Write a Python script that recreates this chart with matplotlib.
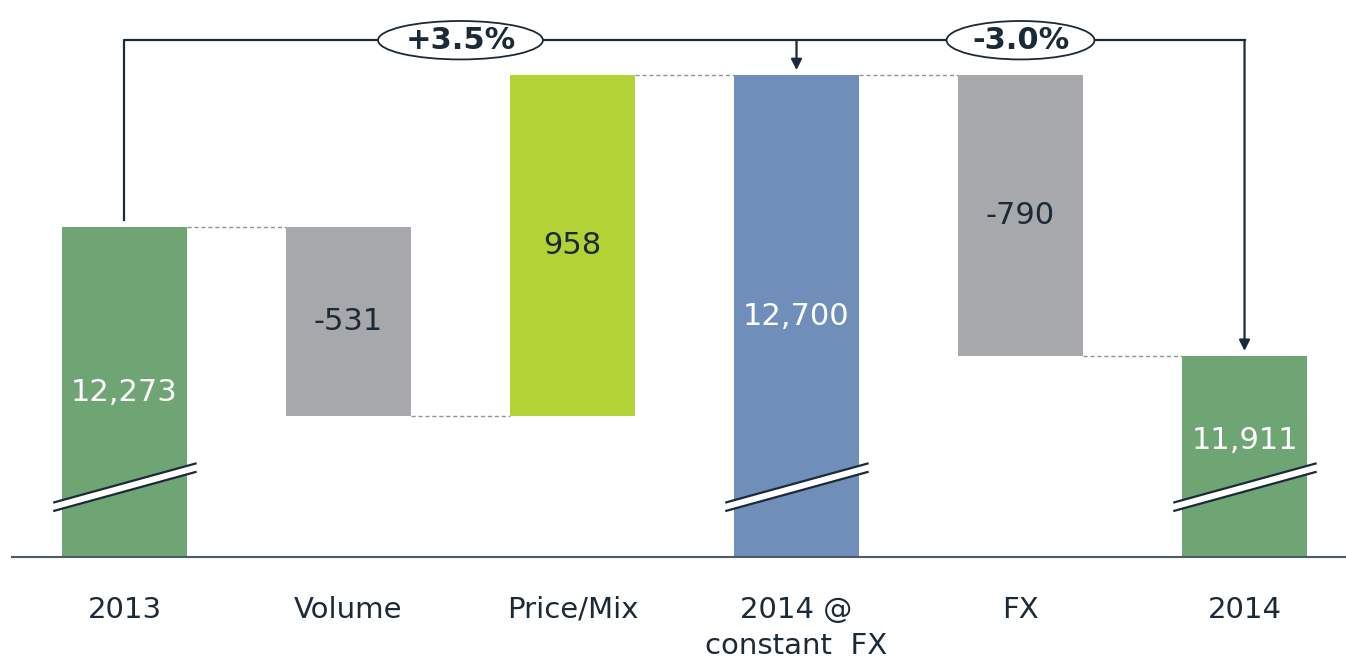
import matplotlib.pyplot as plt
from matplotlib.patches import Ellipse, Polygon
from matplotlib.transforms import blended_transform_factory

categories = ['2013', 'Volume', 'Price/Mix', '2014 @\nconstant  FX', 'FX', '2014']
values = [12273, -531, 958, 12700, -790, 11911]
is_total = [True, False, False, True, False, True]
bar_colors = ['#6fa475', '#a7a8ab', '#b2d235', '#6f8fba', '#a7a8ab', '#6fa475']
label_colors = ['white', '#1b2a38', '#1b2a38', 'white', '#1b2a38', 'white']
changes = ['+3.5%', '-3.0%']

y_floor = 11346   # where the broken axis starts
y_top = 12911
DARK = '#1b2a38'

# waterfall bottoms / tops
bottoms, tops = [], []
run = 0
for v, tot in zip(values, is_total):
    if tot:
        b, t = y_floor, v
        run = v
    else:
        b, t = (run, run + v) if v > 0 else (run + v, run)
        run += v
    bottoms.append(b)
    tops.append(t)
levels = []
run = 0
for v, tot in zip(values, is_total):
    run = v if tot else run + v
    levels.append(run)

fig = plt.figure(figsize=(13.46, 6.59), dpi=100)
ax = fig.add_axes([12 / 1346, 102 / 659, 1 - 12 / 1346, 557 / 659])
x = list(range(len(values)))
w = 0.558
ax.bar(x, [t - b for b, t in zip(bottoms, tops)], bottom=bottoms, width=w,
       color=bar_colors, zorder=2)

# dashed connectors
for i in range(len(values) - 1):
    ax.plot([i + w / 2, i + 1 - w / 2], [levels[i], levels[i]], ls=(0, (3, 2)),
            color='#8d969c', lw=1, zorder=1)

# value labels
offs = [0, 0, 0, 0, 0, 45]
for i, v in enumerate(values):
    ax.text(i, (bottoms[i] + tops[i]) / 2 + offs[i], f'{v:,}', ha='center', va='center',
            fontsize=22, color=label_colors[i], zorder=4)

# axis break marks on total bars
tr = blended_transform_factory(ax.transData, ax.transAxes)
for i, tot in enumerate(is_total):
    if not tot:
        continue
    x0, x1 = i - 0.318, i + 0.322
    y0, y1, g = 0.0900, 0.1607, 0.0076
    ax.add_patch(Polygon([[x0, y0 - g], [x1, y1 - g], [x1, y1 + g], [x0, y0 + g]],
                         closed=True, fc='white', ec='none', transform=tr, zorder=3))
    for s in (-g, g):
        ax.plot([x0, x1], [y0 + s, y1 + s], color=DARK, lw=1.6, transform=tr, zorder=3,
                solid_capstyle='butt')

# growth bracket
y_br = 12798
ax.plot([0, 0, 5], [tops[0] + 20, y_br, y_br], color=DARK, lw=1.6, zorder=2)
for j, tip in ((3, tops[3] + 14), (5, tops[5] + 14)):
    ax.annotate('', xy=(j, tip), xytext=(j, y_br),
                arrowprops=dict(arrowstyle='-|>', color=DARK, lw=1.6, mutation_scale=16,
                                shrinkA=0, shrinkB=0), zorder=2)
for cx, ew, txt in ((1.5, 0.736, changes[0]), (4.0, 0.66, changes[1])):
    ax.add_patch(Ellipse((cx, y_br), ew, 108, fc='white', ec=DARK, lw=1.3, zorder=5))
    ax.text(cx, y_br, txt, ha='center', va='center', fontsize=22, fontweight='bold',
            color=DARK, zorder=6)

ax.set_xlim(-0.502, 5.453)
ax.set_ylim(y_floor, y_top)
for s in ('top', 'right', 'left'):
    ax.spines[s].set_visible(False)
ax.spines['bottom'].set_color('#4d5b66')
ax.spines['bottom'].set_linewidth(1.5)
ax.set_yticks([])
ax.set_xticks(x)
ax.set_xticklabels(categories, fontsize=21, color=DARK, linespacing=1.35)
ax.tick_params(axis='x', length=0, pad=28)

fig.savefig('out.png', dpi=100)
